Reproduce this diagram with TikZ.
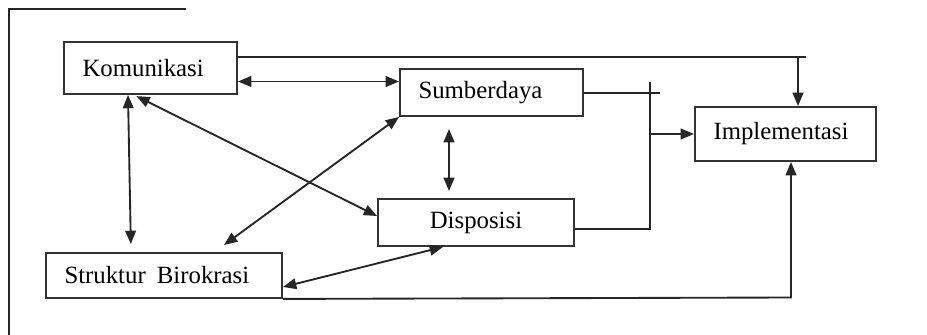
\documentclass[tikz,border=0pt]{standalone}
\usepackage{fontspec}
\setmainfont{Liberation Serif}
\usetikzlibrary{arrows.meta}
\begin{document}
\begin{tikzpicture}[x=0.75pt,y=-0.75pt,
  box/.style={draw=black!80, line width=1.4pt, inner xsep=13.9pt, inner ysep=0pt,
    align=left, font=\fontsize{18.6}{20}\selectfont},
  line/.style={draw=black!85, line width=1.4pt},
  arr/.style={line, -{Triangle[length=10pt,width=8pt]}},
  dbl/.style={line, {Triangle[length=10pt,width=8pt]}-{Triangle[length=10pt,width=8pt]}},
  frame/.style={draw=black!85, line width=1.1pt}]
\useasboundingbox (0,0) rectangle (927,335);
% frame
\draw[frame] (8,9) -- (186,9);
\draw[frame] (9,9) -- (9,335);
% boxes
\node[box, text width=102pt, minimum height=39pt] (K) at (150.5,68) {Komunikasi};
\node[box, text width=109.5pt, minimum height=35.25pt] (S) at (491.5,92.5) {Sumberdaya};
\node[box, text width=108pt, minimum height=40.5pt] (I) at (785.5,134) {Implementasi};
\node[box, text width=119.25pt, minimum height=35.25pt, align=center] (D) at (476,222.5) {Disposisi};
\node[box, text width=149.25pt, minimum height=33.75pt] (SB) at (164,275.5) {Struktur\hspace{0.45em}Birokrasi};
% coordinates
\coordinate (kr) at (806,57);
\coordinate (kd) at (798,57);
\coordinate (sr) at (660,93);
\coordinate (vt) at (650,82);
\coordinate (vb) at (650,229);
\coordinate (bc) at (791,297.5);
\coordinate (sbt) at (224,245);
% Komunikasi to Implementasi
\draw[line] (K.east |- kr) -- (kr);
\draw[arr] (kd) -- (kd |- I.north);
% Komunikasi <-> Sumberdaya
\draw[dbl] (K.east |- 0,81.5) -- (S.west |- 0,81.5);
% Sumberdaya / Disposisi to Implementasi
\draw[line] (S.east |- sr) -- (sr);
\draw[line] (vt) -- (vb) -- (D.east |- vb);
\draw[arr] (vt |- 0,134) -- (I.west |- 0,134);
% Struktur to Implementasi
\draw[arr] (SB.south east) -- (bc) -- (bc |- I.south);
% diagonals and verticals
\draw[dbl, shorten >=6pt] (K.south -| 128,0) -- (SB.north -| 131,0);
\draw[dbl, shorten <=2pt] (K.south -| 134,0) -- (D.west |- 0,216);
\draw[dbl] (S.south west) -- (sbt);
\draw[dbl, shorten <=9pt, shorten >=5.25pt] (S.south -| 449,0) -- (D.north -| 449,0);
\draw[dbl] (SB.east |- 0,287) -- (D.south -| 443,0);
\end{tikzpicture}
\end{document}
